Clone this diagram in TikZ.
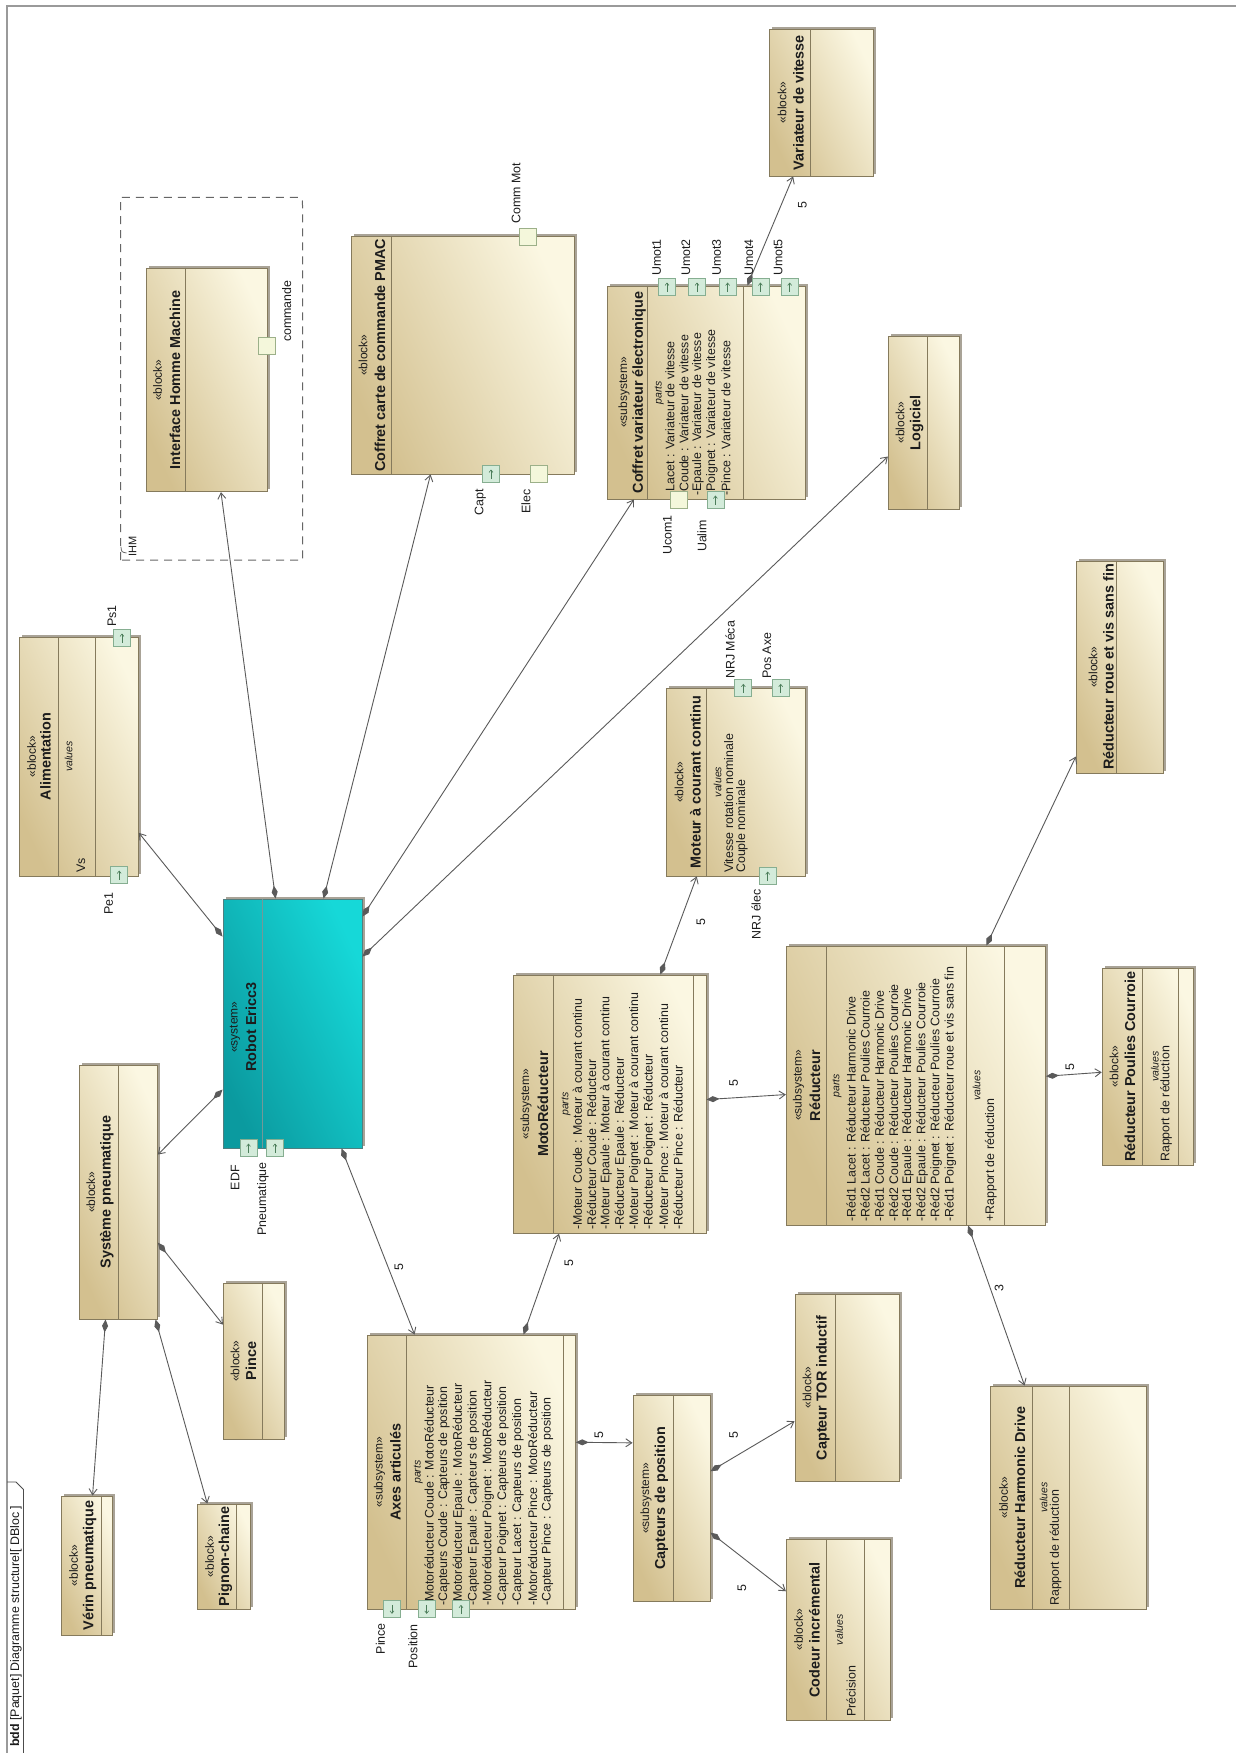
\documentclass[tikz,border=0pt]{standalone}
\usepackage{fontspec}
\setmainfont{Liberation Sans}
\usetikzlibrary{arrows.meta,calc,shadows}

\definecolor{blkdark}{HTML}{D3C08F}
\definecolor{blklight}{HTML}{FBF7E2}
\definecolor{blkedge}{HTML}{857A5C}
\definecolor{shadowc}{HTML}{A9A397}
\definecolor{tealdark}{HTML}{0B9A9F}
\definecolor{teallight}{HTML}{16D8D8}
\definecolor{tealedge}{HTML}{4F7F80}
\definecolor{portfill}{HTML}{D3EBDA}
\definecolor{portedge}{HTML}{86AE91}
\definecolor{portarrowc}{HTML}{4C7D5A}
\definecolor{lportfill}{HTML}{F4F7DB}
\definecolor{lportedge}{HTML}{9CB089}
\definecolor{linec}{HTML}{5A5A5A}
\definecolor{textc}{HTML}{1C1C1C}
\definecolor{framec}{HTML}{9A9A9A}

\newcommand\ftreg{\fontsize{12.4}{14}\selectfont}
\newcommand\compdiv[3][divline]{\draw[#1] ($(#2.north west)+(#3,0)$) -- ($(#2.south west)+(#3,0)$);}

\tikzset{
  blk/.style={rectangle, inner sep=0pt, draw=blkedge, line width=0.9pt,
    top color=blklight, bottom color=blkdark, shading angle=-65,
    general shadow={fill=shadowc, shadow xshift=2.5pt, shadow yshift=2.5pt}},
  sysblk/.style={blk, draw=tealedge, top color=teallight, bottom color=tealdark, shading angle=-65},
  divline/.style={draw=blkedge, line width=0.8pt},
  tealdiv/.style={draw=tealedge!80, line width=0.8pt},
  txt/.style={inner sep=0pt, text=textc, font=\ftreg},
  stereo/.style={txt, rotate=90, font=\fontsize{12}{14}\selectfont},
  bname/.style={txt, rotate=90, font=\fontsize{14.4}{16}\selectfont\bfseries},
  ptxt/.style={txt, rotate=90, anchor=west},
  ctitle/.style={txt, rotate=90, font=\fontsize{10.5}{12}\selectfont\itshape},
  plabel/.style={txt, rotate=90},
  mult/.style={txt, rotate=90},
  port/.style={rectangle, inner sep=0pt, minimum size=17pt, line width=0.8pt},
  gport/.style={port, fill=portfill, draw=portedge},
  lport/.style={port, fill=lportfill, draw=lportedge},
  portup/.style={gport, path picture={\draw[draw=portarrowc, line width=0.6pt, -{Straight Barb[length=2.5pt,width=4pt]}]
      ([yshift=4pt]path picture bounding box.south) -- ([yshift=-4pt]path picture bounding box.north);}},
  portdown/.style={gport, path picture={\draw[draw=portarrowc, line width=0.6pt, -{Straight Barb[length=2.5pt,width=4pt]}]
      ([yshift=-4pt]path picture bounding box.north) -- ([yshift=4pt]path picture bounding box.south);}},
  comp/.style={draw=linec, line width=0.9pt,
    arrows={Diamond[length=13pt,width=6pt]-Straight Barb[length=6pt,width=8pt]}},
}

\begin{document}
\begin{tikzpicture}[x=1pt,y=-1pt]
\useasboundingbox (0,0) rectangle (1235,1753);
\fill[white] (0,0) rectangle (1235,1753);

% diagram frame and its name tab
\draw[framec, line width=1.4pt] (7,1760) -- (7,6) -- (1240,6);
\draw[black!70, line width=0.9pt] (7,1482) -- (16,1482) -- (23.5,1489.5) -- (23.5,1760);
\node[txt, rotate=90, anchor=west] (title) at (15.8,1747) {\textbf{bdd} [Paquet] Diagramme structurel[ DBloc ]};

% IHM partition
\draw[black!60, line width=1pt, dash pattern=on 8pt off 6pt]
  (120.6,560) -- (120.6,197.3) -- (294,197.3) .. controls (302.5,197.3) .. (302.5,205.8) -- (302.5,560) -- cycle;
\draw[black!60, line width=0.8pt] (121,547) .. controls (121.5,552) .. (126.5,553);
\node[txt, rotate=90, font=\fontsize{11}{12}\selectfont] (ihm-lbl) at (132.5,546) {IHM};

% ---------- blocks ----------
\node[sysblk, minimum width=139pt, minimum height=249pt] (robot) at (292.5,1023.5) {};
\compdiv[tealdiv]{robot}{40}
\node[stereo] (robot-s) at (235,1027) {«system»};
\node[bname] (robot-n) at (251,1027) {Robot Ericc3};

\node[blk, minimum width=119.4pt, minimum height=239pt] (alim) at (78.7,756.5) {};
\compdiv{alim}{40.3}\compdiv{alim}{77}
\node[stereo] (alim-s) at (31.6,756.5) {«block»};
\node[bname] (alim-n) at (45.5,756.5) {Alimentation};
\node[ctitle] (alim-v) at (68.5,756.5) {values};
\node[ptxt] (alim-vs) at (81,873) {Vs};

\node[blk, minimum width=120.7pt, minimum height=223.4pt] (ihm) at (206.65,380) {};
\compdiv{ihm}{39.5}
\node[stereo] (ihm-s) at (157.5,380) {«block»};
\node[bname] (ihm-n) at (175,380) {Interface Homme Machine};

\node[blk, minimum width=223pt, minimum height=238pt] (pmac) at (462.5,355) {};
\compdiv{pmac}{40.4}
\node[stereo] (pmac-s) at (363,355) {«block»};
\node[bname] (pmac-n) at (380,355) {Coffret carte de commande PMAC};

\node[blk, minimum width=197.7pt, minimum height=213pt] (cvar) at (706.15,392.5) {};
\compdiv{cvar}{40.5}\compdiv{cvar}{136.5}
\node[stereo] (cvar-s) at (624,392.5) {«subsystem»};
\node[bname] (cvar-n) at (639,392.5) {Coffret variateur électronique};
\node[ctitle] (cvar-p) at (659.3,392.5) {parts};
\node[ptxt] (cvar-l1) at (670,496) {-Lacet : Variateur de vitesse};
\node[ptxt] (cvar-l2) at (684,496) {-Coude : Variateur de vitesse};
\node[ptxt] (cvar-l3) at (698,496) {-Epaule : Variateur de vitesse};
\node[ptxt] (cvar-l4) at (712,496) {-Poignet : Variateur de vitesse};
\node[ptxt] (cvar-l5) at (726,496) {-Pince : Variateur de vitesse};

\node[blk, minimum width=104.1pt, minimum height=146.7pt] (varv) at (821.35,102.65) {};
\compdiv{varv}{41.3}
\node[stereo] (varv-s) at (782,102.65) {«block»};
\node[bname] (varv-n) at (798.5,102.65) {Variateur de vitesse};

\node[blk, minimum width=71pt, minimum height=172.8pt] (logi) at (923.8,422.9) {};
\compdiv{logi}{40}
\node[stereo] (logi-s) at (900,422.9) {«block»};
\node[bname] (logi-n) at (916.7,422.9) {Logiciel};

\node[blk, minimum width=86.9pt, minimum height=212pt] (roue) at (1119.75,667) {};
\compdiv{roue}{40.4}
\node[stereo] (roue-s) at (1093,667) {«block»};
\node[bname] (roue-n) at (1108.5,667) {Réducteur roue et vis sans fin};

\node[blk, minimum width=138.9pt, minimum height=187.7pt] (moteur) at (736.25,782.15) {};
\compdiv{moteur}{40.5}
\node[stereo] (moteur-s) at (679,782) {«block»};
\node[bname] (moteur-n) at (695.5,782) {Moteur à courant continu};
\node[ctitle] (moteur-v) at (717.5,782) {values};
\node[ptxt] (moteur-l1) at (728.8,873) {Vitesse rotation nominale};
\node[ptxt] (moteur-l2) at (741.8,873) {Couple nominale};

\node[blk, minimum width=192.8pt, minimum height=258.3pt] (moto) at (609.6,1104.15) {};
\compdiv{moto}{40.4}\compdiv{moto}{180.8}
\node[stereo] (moto-s) at (526,1104) {«subsystem»};
\node[bname] (moto-n) at (543,1104) {MotoRéducteur};
\node[ctitle] (moto-p) at (566,1104) {parts};
\node[ptxt] (moto-l1) at (577.3,1230) {-Moteur Coude : Moteur à courant continu};
\node[ptxt] (moto-l2) at (591.7,1230) {-Réducteur Coude : Réducteur};
\node[ptxt] (moto-l3) at (606.1,1230) {-Moteur Epaule : Moteur à courant continu};
\node[ptxt] (moto-l4) at (620.5,1230) {-Réducteur Epaule : Réducteur};
\node[ptxt] (moto-l5) at (634.9,1230) {-Moteur Poignet : Moteur à courant continu};
\node[ptxt] (moto-l6) at (649.3,1230) {-Réducteur Poignet : Réducteur};
\node[ptxt] (moto-l7) at (663.7,1230) {-Moteur Pince : Moteur à courant continu};
\node[ptxt] (moto-l8) at (678.1,1230) {-Réducteur Pince : Réducteur};

\node[blk, minimum width=259.2pt, minimum height=279pt] (reduc) at (915.9,1085.5) {};
\compdiv{reduc}{40.5}\compdiv{reduc}{180.2}\compdiv{reduc}{218.7}
\node[stereo] (reduc-s) at (798.5,1085.5) {«subsystem»};
\node[bname] (reduc-n) at (815,1085.5) {Réducteur};
\node[ctitle] (reduc-p) at (837,1085.5) {parts};
\node[ptxt] (reduc-l1) at (851,1222) {-Réd1 Lacet : Réducteur Harmonic Drive};
\node[ptxt] (reduc-l2) at (865.2,1222) {-Réd2 Lacet : Réducteur Poulies Courroie};
\node[ptxt] (reduc-l3) at (879.4,1222) {-Réd1 Coude : Réducteur Harmonic Drive};
\node[ptxt] (reduc-l4) at (893.6,1222) {-Réd2 Coude : Réducteur Poulies Courroie};
\node[ptxt] (reduc-l5) at (907.8,1222) {-Réd1 Epaule : Réducteur Harmonic Drive};
\node[ptxt] (reduc-l6) at (922,1222) {-Réd2 Epaule : Réducteur Poulies Courroie};
\node[ptxt] (reduc-l7) at (936.2,1222) {-Réd2 Poignet : Réducteur Poulies Courroie};
\node[ptxt] (reduc-l8) at (950.4,1222) {-Réd1 Poignet : Réducteur roue et vis sans fin};
\node[ctitle] (reduc-v) at (976.7,1085.5) {values};
\node[ptxt] (reduc-v1) at (990.8,1222) {+Rapport de réduction};

\node[blk, minimum width=91.1pt, minimum height=196.7pt] (poulies) at (1147.75,1066.65) {};
\compdiv{poulies}{40.5}\compdiv{poulies}{76.8}
\node[stereo] (poulies-s) at (1114,1066.65) {«block»};
\node[bname] (poulies-n) at (1130,1066.65) {Réducteur Poulies Courroie};
\node[ctitle] (poulies-v) at (1154.9,1066.65) {values};
\node[ptxt] (poulies-v1) at (1166,1162) {Rapport de réduction};

\node[blk, minimum width=156pt, minimum height=223.3pt] (hd) at (1068.8,1497.65) {};
\compdiv{hd}{41.7}\compdiv{hd}{79}
\node[stereo] (hd-s) at (1003.5,1497.65) {«block»};
\node[bname] (hd-n) at (1020,1497.65) {Réducteur Harmonic Drive};
\node[ctitle] (hd-v) at (1043.5,1497.65) {values};
\node[ptxt] (hd-v1) at (1055.6,1606) {Rapport de réduction};

\node[blk, minimum width=104.5pt, minimum height=181.7pt] (codeur) at (838.55,1629.85) {};
\compdiv{codeur}{40.5}\compdiv{codeur}{79}
\node[stereo] (codeur-s) at (798.5,1629.85) {«block»};
\node[bname] (codeur-n) at (814.5,1629.85) {Codeur incrémental};
\node[ctitle] (codeur-v) at (839,1629.85) {values};
\node[ptxt] (codeur-v1) at (851,1717) {Précision};

\node[blk, minimum width=104pt, minimum height=187.7pt] (tor) at (847,1387.85) {};
\compdiv{tor}{40.7}
\node[stereo] (tor-s) at (807,1387.85) {«block»};
\node[bname] (tor-n) at (823,1387.85) {Capteur TOR inductif};

\node[blk, minimum width=77pt, minimum height=206.7pt] (capt) at (671.5,1498.35) {};
\compdiv{capt}{40.7}
\node[stereo] (capt-s) at (646,1498.35) {«subsystem»};
\node[bname] (capt-n) at (661.5,1498.35) {Capteurs de position};

\node[blk, minimum width=207.6pt, minimum height=274.3pt] (axes) at (471.5,1472.15) {};
\compdiv{axes}{39.6}\compdiv{axes}{195.7}
\node[stereo] (axes-s) at (379.5,1472) {«subsystem»};
\node[bname] (axes-n) at (395.5,1472) {Axes articulés};
\node[ctitle] (axes-p) at (418.3,1472) {parts};
\node[ptxt] (axes-l1) at (429,1606) {-Motoréducteur Coude : MotoRéducteur};
\node[ptxt] (axes-l2) at (443.8,1606) {-Capteurs Coude : Capteurs de position};
\node[ptxt] (axes-l3) at (458.6,1606) {-Motoréducteur Epaule : MotoRéducteur};
\node[ptxt] (axes-l4) at (473.4,1606) {-Capteur Epaule : Capteurs de position};
\node[ptxt] (axes-l5) at (488.2,1606) {-Motoréducteur Poignet : MotoRéducteur};
\node[ptxt] (axes-l6) at (503,1606) {-Capteur Poignet : Capteurs de position};
\node[ptxt] (axes-l7) at (517.8,1606) {-Capteur Lacet : Capteurs de position};
\node[ptxt] (axes-l8) at (532.6,1606) {-Motoréducteur Pince : MotoRéducteur};
\node[ptxt] (axes-l9) at (547.4,1606) {-Capteur Pince : Capteurs de position};

\node[blk, minimum width=78.4pt, minimum height=254pt] (systp) at (118.2,1192) {};
\compdiv{systp}{39.6}
\node[stereo] (systp-s) at (90.8,1192) {«block»};
\node[bname] (systp-n) at (106.8,1192) {Système pneumatique};

\node[blk, minimum width=61.1pt, minimum height=156pt] (pince) at (253.95,1361) {};
\compdiv{pince}{39.6}
\node[stereo] (pince-s) at (235,1361) {«block»};
\node[bname] (pince-n) at (251,1361) {Pince};

\node[blk, minimum width=52.3pt, minimum height=105pt] (pignon) at (223.85,1556.5) {};
\compdiv{pignon}{39.3}
\node[stereo] (pignon-s) at (209.5,1556.5) {«block»};
\node[bname] (pignon-n) at (225.5,1556.5) {Pignon-chaine};

\node[blk, minimum width=51.4pt, minimum height=139pt] (verin) at (87,1565.5) {};
\compdiv{verin}{40.7}
\node[stereo] (verin-s) at (73.7,1565.5) {«block»};
\node[bname] (verin-n) at (89.7,1565.5) {Vérin pneumatique};

% ---------- composition connectors ----------
\draw[comp] ($(robot.north west)+(0,38)$)  -- ($(alim.north east)+(0,196.3)$);
\draw[comp] ($(robot.north west)+(53,0)$)  -- ($(ihm.south west)+(75.1,0)$);
\draw[comp] ($(robot.north west)+(101,0)$) -- ($(pmac.south west)+(80,0)$);
\draw[comp] ($(robot.north east)+(0,18)$)  -- ($(cvar.south west)+(27,0)$);
\draw[comp] ($(robot.north east)+(0,58)$)  -- ($(logi.north west)+(0,120.5)$);
\draw[comp] ($(robot.north west)+(0,191)$) -- ($(systp.north east)+(0,90)$);
\draw[comp] ($(robot.south west)+(119,0)$) -- ($(axes.north west)+(47.3,0)$);
\draw[comp] ($(systp.north east)+(0,178)$) -- ($(pince.north west)+(0,42)$);
\draw[comp] ($(systp.south west)+(27,0)$)  -- ($(verin.north west)+(31.7,0)$);
\draw[comp] ($(systp.south west)+(77,0)$)  -- ($(pignon.north west)+(10,0)$);
\draw[comp] ($(axes.north west)+(156.3,0)$) -- ($(moto.south west)+(46.3,0)$);
\draw[comp] ($(axes.north east)+(0,107.7)$) -- ($(capt.north west)+(0,48.3)$);
\draw[comp] ($(capt.north east)+(0,76.7)$) -- ($(tor.north west)+(0,127.7)$);
\draw[comp] ($(capt.north east)+(0,138)$)  -- ($(codeur.north west)+(0,52.7)$);
\draw[comp] ($(moto.north west)+(147.6,0)$) -- ($(moteur.south west)+(30.4,0)$);
\draw[comp] ($(moto.north east)+(0,125)$)  -- ($(reduc.north west)+(0,149)$);
\draw[comp] ($(reduc.north west)+(200.5,0)$) -- ($(roue.north west)+(0,196)$);
\draw[comp] ($(reduc.north east)+(0,130.7)$) -- ($(poulies.north west)+(0,104.4)$);
\draw[comp] ($(reduc.south west)+(182.3,0)$) -- ($(hd.north west)+(34.2,0)$);
\draw[comp] ($(cvar.north west)+(140.5,0)$) -- ($(varv.south west)+(24.3,0)$);

% multiplicities
\node[mult] (m1) at (399,1267) {5};
\node[mult] (m2) at (569,1263) {5};
\node[mult] (m3) at (599,1435) {5};
\node[mult] (m4) at (733.7,1435) {5};
\node[mult] (m5) at (741.8,1588) {5};
\node[mult] (m6) at (701,921.7) {5};
\node[mult] (m7) at (733.7,1083) {5};
\node[mult] (m8) at (1069.8,1066.7) {5};
\node[mult] (m9) at (999,1288.3) {3};
\node[mult] (m10) at (802.5,205) {5};

% ---------- ports ----------
\node[portup] (robot-edf) at (248.5,1148) {};
\node[portup] (robot-pn) at (275,1148) {};
\node[plabel, anchor=east] (robot-edf-l) at (235,1165) {EDF};
\node[plabel, anchor=east] (robot-pn-l) at (263,1162) {Pneumatique};

\node[portup] (alim-pe1) at (119.2,875) {};
\node[portup] (alim-ps1) at (122,638) {};
\node[plabel, anchor=east] (alim-pe1-l) at (108.7,892) {Pe1};
\node[plabel, anchor=west] (alim-ps1-l) at (112,627) {Ps1};

\node[lport] (ihm-cmd) at (267,346.3) {};
\node[plabel, anchor=west] (ihm-cmd-l) at (286.7,342) {commande};

\node[lport] (pmac-comm) at (527.8,237) {};
\node[portup] (pmac-capt) at (491,474) {};
\node[lport] (pmac-elec) at (538.4,474) {};
\node[plabel, anchor=west] (pmac-comm-l) at (516,224) {Comm Mot};
\node[plabel, anchor=east] (pmac-capt-l) at (480.4,489) {Capt};
\node[plabel, anchor=east] (pmac-elec-l) at (525.9,489) {Elec};

\node[portup] (cvar-u1) at (667,287) {};
\node[portup] (cvar-u2) at (697,287) {};
\node[portup] (cvar-u3) at (727.6,287) {};
\node[portup] (cvar-u4) at (760.4,287) {};
\node[portup] (cvar-u5) at (789.7,287) {};
\node[plabel, anchor=west] (cvar-u1-l) at (656.7,276) {Umot1};
\node[plabel, anchor=west] (cvar-u2-l) at (685.9,276) {Umot2};
\node[plabel, anchor=west] (cvar-u3-l) at (716.6,276) {Umot3};
\node[plabel, anchor=west] (cvar-u4-l) at (749,276) {Umot4};
\node[plabel, anchor=west] (cvar-u5-l) at (778.2,276) {Umot5};
\node[lport] (cvar-ucom) at (678.8,500) {};
\node[portup] (cvar-ualim) at (715.4,500) {};
\node[plabel] (cvar-ucom-l) at (667.5,535) {Ucom1};
\node[plabel] (cvar-ualim-l) at (702,536) {Ualim};

\node[portup] (moteur-meca) at (743.3,688.3) {};
\node[portup] (moteur-pos) at (780.7,688.3) {};
\node[portup] (moteur-elec) at (767.7,876) {};
\node[plabel, anchor=west] (moteur-meca-l) at (730,679) {NRJ Méca};
\node[plabel, anchor=west] (moteur-pos-l) at (767,679) {Pos Axe};
\node[plabel, anchor=east] (moteur-elec-l) at (756,889) {NRJ élec};

\node[portdown] (axes-pince) at (392,1609.3) {};
\node[portdown] (axes-pos) at (426.7,1609.3) {};
\node[portup] (axes-p3) at (461,1609.3) {};
\node[plabel, anchor=east] (axes-pince-l) at (380.4,1623) {Pince};
\node[plabel, anchor=east] (axes-pos-l) at (413,1624) {Position};
\end{tikzpicture}
\end{document}
